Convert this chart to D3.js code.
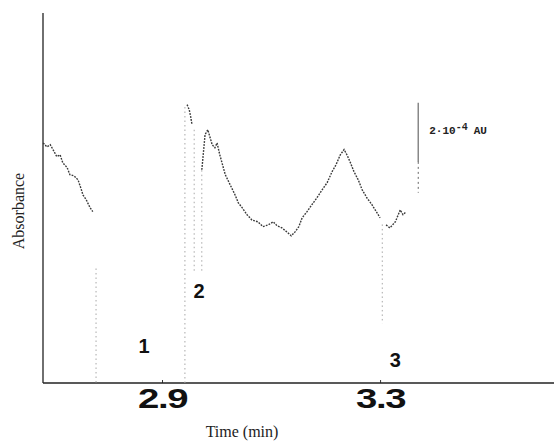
<!DOCTYPE html>
<html>
<head>
    <meta charset="UTF-8">
    <title>Absorbance trace</title>
    <script src="https://d3js.org/d3.v7.min.js"></script>
    <style>
        body { margin: 0; background: #fff; }
        .trace { fill: none; stroke: #3a3a3a; stroke-width: 1.4px; stroke-dasharray: 1.8 1.2; }
        .spike { stroke: #a8a8a8; stroke-width: 1px; stroke-dasharray: 1.5 3; }
        .axis-line { stroke: #222; stroke-width: 1.3px; }
    </style>
</head>
<body>
    <svg width="554" height="442"></svg>
    <script>
        // time (min) and absorbance (10^-4 AU); null = pen gap
        var traceT = [2.682, 2.689, 2.695, 2.700, 2.707, 2.713, 2.718, 2.726, 2.731, 2.739, 2.746, 2.751, 2.755, 2.761, 2.768, 2.773,
            2.800,
            2.946, 2.950, 2.953, 2.955,
            2.965,
            2.973, 2.979, 2.984, 2.992, 2.997, 3.001, 3.006, 3.016, 3.025, 3.034, 3.040, 3.047, 3.056, 3.065, 3.076, 3.085, 3.095,
            3.104, 3.111, 3.120, 3.129, 3.137, 3.144, 3.151, 3.157, 3.166, 3.175, 3.184, 3.194, 3.203, 3.212, 3.219, 3.227, 3.234,
            3.240, 3.245, 3.252, 3.260, 3.267, 3.276, 3.285, 3.293, 3.300,
            3.305,
            3.311, 3.318, 3.328, 3.337, 3.342, 3.348];
        var traceA = [5.45, 5.36, 5.41, 5.30, 5.14, 5.18, 5.00, 4.89, 4.73, 4.70, 4.61, 4.43, 4.27, 4.16, 3.98, 3.89,
            null,
            6.32, 6.20, 6.02, 5.86,
            null,
            4.84, 5.64, 5.75, 5.41, 5.34, 5.45, 5.18, 4.73, 4.50, 4.27, 4.09, 3.98, 3.82, 3.70, 3.66, 3.55, 3.59,
            3.66, 3.57, 3.52, 3.43, 3.34, 3.43, 3.55, 3.75, 3.89, 4.05, 4.20, 4.39, 4.55, 4.80, 4.95, 5.18, 5.30,
            5.16, 5.02, 4.80, 4.61, 4.39, 4.20, 4.05, 3.89, 3.75,
            null,
            3.59, 3.52, 3.66, 3.93, 3.82, 3.89];

        // fast pen strokes through the peaks (only the visible part)
        var spikeT = [2.779, 2.942, 2.959, 2.973, 3.304];
        var spikeFrom = [2.6, 0, 5.75, 2.55, 3.6];
        var spikeTo = [0, 6.3, 2.5, 4.85, 1.35];

        var peakLabels = ["1", "2", "3"];
        var peakLabelT = [2.867, 2.968, 3.328];
        var peakLabelA = [0.68, 1.93, 0.36];

        var xTicks = [2.9, 3.3];

        // scale bar: 2·10^-4 AU
        var barT = 3.370;
        var barTop = 6.36, barBottom = 4.32;

        var svg = d3.select("svg");
        var x = d3.scaleLinear().domain([2.6817, 3.619]).range([43, 554]);
        var y = d3.scaleLinear().domain([0, 8.4]).range([383, 13]);

        // axes
        var xAxis = d3.axisBottom(x).tickValues(xTicks).tickSize(-3).tickFormat(d3.format(".1f"));
        var gx = svg.append("g").attr("transform", "translate(0,383)").call(xAxis);
        gx.select(".domain").remove();
        gx.selectAll(".tick line").attr("stroke", "#333");
        gx.selectAll(".tick text")
            .attr("y", 25).attr("dy", 0)
            .attr("transform", "scale(1.42,1)")
            .style("font-family", "'Liberation Sans', Arial, sans-serif")
            .style("font-weight", "bold")
            .style("font-size", "27px")
            .style("letter-spacing", "-1px")
            .attr("fill", "#111");
        svg.append("line").attr("class", "axis-line")
            .attr("x1", x.range()[0]).attr("x2", x.range()[1]).attr("y1", y(0)).attr("y2", y(0));
        svg.append("line").attr("class", "axis-line")
            .attr("x1", x.range()[0]).attr("x2", x.range()[0]).attr("y1", y(0)).attr("y2", y.range()[1]);

        // spikes
        svg.selectAll(".spike").data(spikeT).enter().append("line")
            .attr("class", "spike")
            .attr("x1", function(d) { return x(d); }).attr("x2", function(d) { return x(d); })
            .attr("y1", function(d, i) { return y(spikeFrom[i]); })
            .attr("y2", function(d, i) { return y(spikeTo[i]); });

        // trace
        var line = d3.line()
            .defined(function(d, i) { return traceA[i] !== null; })
            .x(function(d) { return x(d); })
            .y(function(d, i) { return y(traceA[i]); });
        svg.append("path").attr("class", "trace").attr("d", line(traceT));

        // peak numbers
        svg.selectAll(".peak").data(peakLabels).enter().append("text")
            .attr("x", function(d, i) { return x(peakLabelT[i]); })
            .attr("y", function(d, i) { return y(peakLabelA[i]); })
            .attr("text-anchor", "middle")
            .style("font-family", "'Liberation Sans', Arial, sans-serif")
            .style("font-weight", "bold")
            .style("font-size", "20px")
            .attr("fill", "#111")
            .text(function(d) { return d; });

        // scale bar
        svg.append("line").attr("x1", x(barT)).attr("x2", x(barT))
            .attr("y1", y(barTop)).attr("y2", y(5.02))
            .attr("stroke", "#888").attr("stroke-width", 1.5);
        svg.append("line").attr("x1", x(barT)).attr("x2", x(barT))
            .attr("y1", y(5.02)).attr("y2", y(barBottom))
            .attr("stroke", "#666").attr("stroke-width", 1).attr("stroke-dasharray", "2 3");
        var bar = svg.append("text")
            .attr("x", x(barT) + 11).attr("y", y(5.66))
            .style("font-family", "'Liberation Mono', 'DejaVu Sans Mono', monospace")
            .style("font-size", "11px")
            .style("font-weight", "bold")
            .attr("fill", "#222");
        bar.append("tspan").text("2·10");
        bar.append("tspan").attr("dy", -4).style("font-size", "10px").text("-4");
        bar.append("tspan").attr("dy", 4).attr("dx", 6).text("AU");

        // axis titles
        svg.append("text")
            .attr("x", 242).attr("y", 437)
            .attr("text-anchor", "middle")
            .style("font-family", "'Liberation Serif', 'Times New Roman', serif")
            .style("font-size", "16px")
            .attr("fill", "#222")
            .text("Time (min)");
        svg.append("text")
            .attr("transform", "translate(24,211) rotate(-90)")
            .attr("text-anchor", "middle")
            .style("font-family", "'Liberation Serif', 'Times New Roman', serif")
            .style("font-size", "16px")
            .attr("fill", "#222")
            .text("Absorbance");
    </script>
</body>
</html>
